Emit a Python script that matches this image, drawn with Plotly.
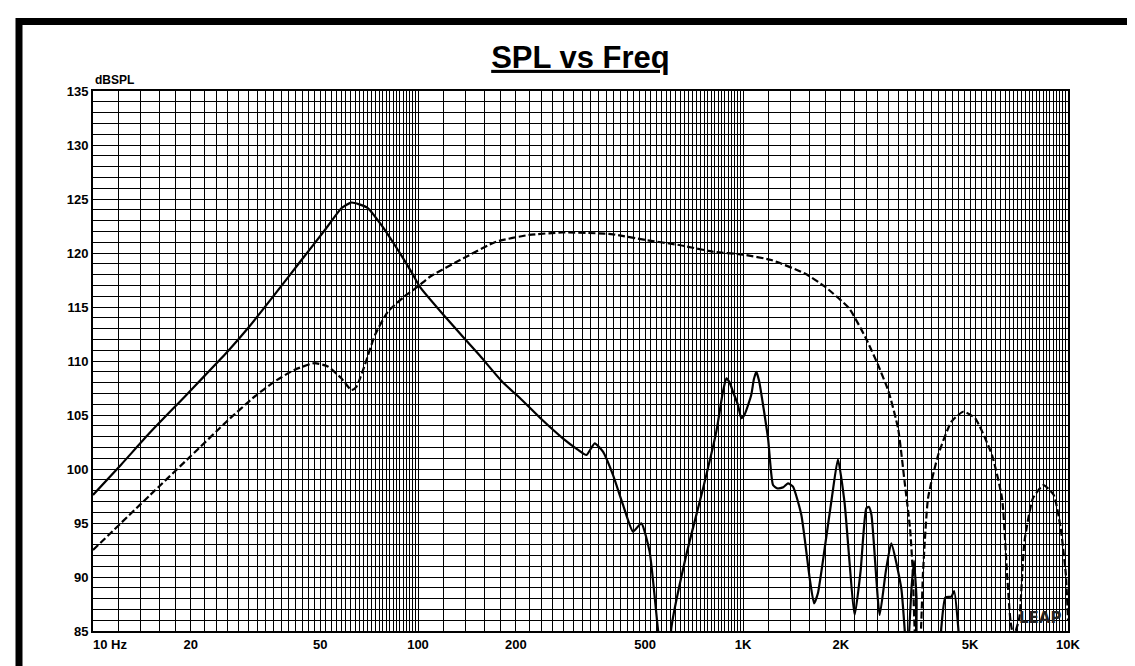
import numpy as np
import plotly.graph_objects as go

# ---------------- data ----------------
solid_freq = [10, 12.2, 15, 19.15, 22, 26, 30, 35.8, 43.8, 52.2, 58.1, 62.2, 66, 70.2, 77.1, 84.8,
              95.3, 101.2, 122, 154.9, 182.6, 205.5, 240, 279, 310, 330, 349.7, 370.8, 398, 427.5,
              458.7, 486.7, 516, 547, 575, 590, 601.6, 669, 753.5, 827.8, 867.6, 888.8, 910, 931,
              965, 988, 1010, 1060, 1080, 1099, 1120, 1194, 1237, 1276, 1330, 1375, 1425, 1512,
              1604, 1654, 1700, 1784, 1880, 1959, 2052, 2207, 2300, 2395, 2439, 2485, 2633, 2750,
              2859, 3069, 3142, 3200, 3300, 3360, 3420, 3480, 4000, 4074, 4194, 4379, 4464, 4597, 4700]
solid_db = [97.6, 100.4, 103.4, 106.7, 108.6, 110.9, 113.05, 115.96, 119.35, 122.29, 124.14, 124.67,
            124.5, 124.14, 122.6, 120.74, 118.28, 116.89, 114.0, 110.5, 108.0, 106.6, 104.6,
            102.84, 101.8, 101.3, 102.38, 101.6, 99.45, 96.67, 94.2, 94.97, 92.35, 85.25, 80, 80,
            85.25, 92.04, 98.2, 103.46, 107.17, 108.4, 108.0, 107.17, 105.93, 104.7, 105.0, 106.85,
            108.3, 109.0, 108.2, 102.84, 98.52, 98.2, 98.3, 98.67, 98.37, 95.74, 89.88, 87.56, 88.5,
            92.66, 97.5, 100.9, 96.98, 86.48, 90.5, 96.36, 96.5, 95.74, 86.48, 90.5, 93.12, 88.96,
            85.25, 82, 89, 91.5, 88, 82, 82, 85.25, 88.1, 88.19, 88.7, 85.25, 80]

dashed_freq = [10, 15, 20, 26, 31.4, 36.2, 41.6, 48, 52.8, 58.1, 62.4, 64.6, 68.6, 73.7,
               80.8, 91, 100, 108.8, 137.7, 174.2, 219.6, 278, 352, 398, 502, 636, 805, 1000, 1222,
               1550, 1784, 2120, 2389, 2604, 2805, 3000, 3142, 3266, 3331, 3420, 3480, 3580, 3710,
               3986, 4379, 4762, 5180, 5834, 6266, 6496, 6655, 6800, 7080, 7345, 7805, 8400, 9040,
               9495, 9850, 10000]
dashed_db = [92.5, 97.6, 101.2, 104.5, 106.7, 108.1, 109.17, 109.8, 109.5, 108.4, 107.3, 107.6,
             109.63, 112.4, 114.57, 116.0, 116.9, 117.8, 119.5, 121.05, 121.67, 121.9, 121.83, 121.73,
             121.2, 120.74, 120.13, 119.85, 119.35, 118.1, 116.9, 114.88, 112.1, 109.63, 107.17,
             103.77, 98.83, 94.5, 90.4, 83, 83, 90.4, 97.3, 101.3, 104.39, 105.3, 104.7, 101.3, 97.3,
             90.2, 85.9, 84.5, 86.2, 93.3, 97.3, 98.5, 97.6, 94.5, 90.2, 86]

x_tick_vals = [20, 50, 100, 200, 500, 1000, 2000, 5000, 10000]
x_tick_text = ["20", "50", "100", "200", "500", "1K", "2K", "5K", "10K"]
first_x_label = "10 Hz"
y_tick_step_label = 5
title_text = "SPL vs Freq"
y_unit = "dBSPL"
logo_text = "LEAP"

# ---------------- grid positions ----------------
grid_x = list(np.arange(10, 100, 2)) + list(np.arange(100, 1000, 20)) + list(np.arange(1000, 10001, 200))
grid_x = [float(v) for v in grid_x]
x_text = []
for v in grid_x:
    if v in x_tick_vals:
        x_text.append(x_tick_text[x_tick_vals.index(v)])
    else:
        x_text.append("")
grid_y = list(range(85, 136))
y_text = [str(v) if v % y_tick_step_label == 0 else "" for v in grid_y]

FONT = "Arial, Liberation Sans, sans-serif"

fig = go.Figure()
fig.add_trace(go.Scatter(x=solid_freq, y=solid_db, mode="lines",
                         line=dict(color="black", width=2.2, shape="spline", smoothing=0.5),
                         showlegend=False))
fig.add_trace(go.Scatter(x=dashed_freq, y=dashed_db, mode="lines",
                         line=dict(color="black", width=2.2, dash="7px,3px", shape="spline", smoothing=0.5),
                         showlegend=False))

fig.update_layout(
    width=1135, height=666,
    margin=dict(l=85, r=75, t=83, b=43),
    paper_bgcolor="white", plot_bgcolor="white",
    title=dict(text="<b><u>" + title_text + "</u></b>", x=0.5, xref="paper", xanchor="center",
               y=1 - 49 / 666, yref="container", yanchor="middle",
               font=dict(family=FONT, size=31, color="black")),
    xaxis=dict(type="log", range=[1, 4], tickmode="array", tickvals=grid_x, ticktext=x_text,
               tickangle=0, showgrid=True, gridcolor="black", gridwidth=1,
               showline=True, linecolor="black", linewidth=2, mirror=True, ticks="",
               tickfont=dict(family=FONT, size=13, color="black", weight="bold"), zeroline=False),
    yaxis=dict(range=[85, 135], tickmode="array", tickvals=grid_y, ticktext=y_text,
               showgrid=True, gridcolor="black", gridwidth=1,
               showline=True, linecolor="black", linewidth=2, mirror=True, ticks="",
               tickfont=dict(family=FONT, size=13, color="black", weight="bold"), zeroline=False),
)

fig.add_annotation(text="<b>" + first_x_label + "</b>", xref="paper", yref="paper",
                   x=-0.002, y=0, xanchor="left", yanchor="top", yshift=-4, showarrow=False,
                   font=dict(family=FONT, size=13, color="black"))
fig.add_annotation(text="<b>" + y_unit + "</b>", xref="paper", yref="paper",
                   x=0, y=1, xanchor="left", yanchor="bottom", yshift=2, showarrow=False,
                   font=dict(family=FONT, size=12, color="black"))
fig.add_annotation(text="<b>" + logo_text + "</b>", xref="paper", yref="paper",
                   x=0.995, y=0.004, xanchor="right", yanchor="bottom", showarrow=False,
                   font=dict(family="DejaVu Sans, sans-serif", size=15, color="#222222"))

# outer frame
W, H = 975.0, 540.0
def px2paper_x(px):
    return (px - 85) / W
def px2paper_y(py):
    return (623 - py) / H
fig.add_shape(type="rect", xref="paper", yref="paper",
              x0=px2paper_x(11), x1=px2paper_x(1132.5), y0=px2paper_y(666.5), y1=px2paper_y(13.5),
              line=dict(color="black", width=7), fillcolor="rgba(0,0,0,0)", layer="above")

fig.write_html("out.html")
